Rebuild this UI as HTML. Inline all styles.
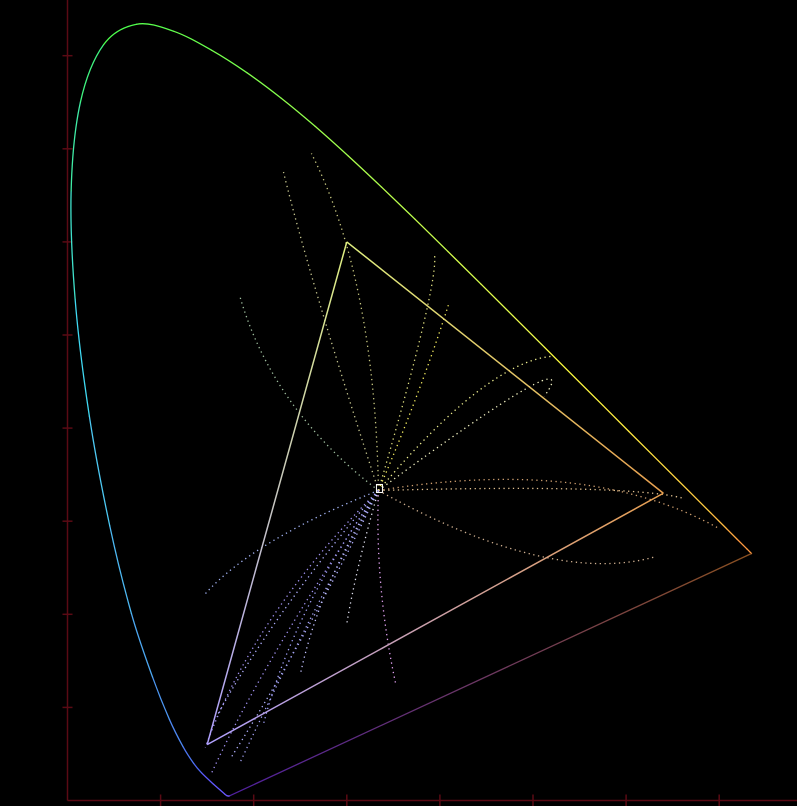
<!DOCTYPE html>
<html><head><meta charset="utf-8"><style>
html,body{margin:0;padding:0;background:#000;width:797px;height:806px;overflow:hidden}
svg{display:block}
</style></head><body>
<svg id="chart" width="797" height="806" viewBox="0 0 797 806" xmlns="http://www.w3.org/2000/svg">
<g id="axes"></g>
<g id="curves"></g>
<g id="locus"></g>
<g id="gamut"></g>
</svg>
<script>
const wavelengths=[380,400,410,420,430,440,450,460,465,470,475,480,485,490,495,500,505,510,515,520,525,530,535,540,545,550,555,560,565,570,575,580,585,590,595,600,605,610,620,630,640,650,660,680,700];
const locusX=[.1741,.1733,.1726,.1714,.1689,.1644,.1566,.1440,.1355,.1241,.1096,.0913,.0687,.0454,.0235,.0082,.0039,.0139,.0389,.0743,.1142,.1547,.1929,.2296,.2658,.3016,.3373,.3731,.4087,.4441,.4788,.5125,.5448,.5752,.6029,.6270,.6482,.6658,.6915,.7079,.7190,.7260,.7300,.7334,.7347];
const locusY=[.0050,.0048,.0048,.0051,.0069,.0109,.0177,.0297,.0399,.0578,.0868,.1327,.2007,.2950,.4127,.5384,.6548,.7502,.8120,.8338,.8262,.8059,.7816,.7543,.7243,.6923,.6589,.6245,.5896,.5547,.5202,.4866,.4544,.4242,.3965,.3725,.3514,.3340,.3083,.2920,.2809,.2740,.2700,.2666,.2653];
const gamutX=[0.64,0.30,0.15];
const gamutY=[0.33,0.60,0.06];
const gamutColors=['#e8a050','#e0f080','#b0a0ff'];
const whiteX=0.334, whiteY=0.333;
const curveEndX=[0.232,0.262,0.185,0.394,0.410,0.519,0.512,0.148,0.353,0.632,0.700,0.660,0.148,0.155,0.175,0.185,0.160,0.250,0.300,0.210];
const curveEndY=[0.675,0.695,0.542,0.587,0.535,0.477,0.434,0.222,0.123,0.262,0.292,0.325,0.057,0.030,0.045,0.040,0.090,0.135,0.190,0.080];
const curveCtlX=[0.260,0.330,0.220,0.400,0.380,0.450,0.560,0.200,0.330,0.520,0.560,0.600,0.200,0.210,0.260,0.250,0.220,0.270,0.310,0.240];
const curveCtlY=[0.560,0.560,0.420,0.560,0.440,0.470,0.500,0.280,0.230,0.230,0.370,0.340,0.200,0.150,0.180,0.180,0.200,0.230,0.250,0.200];
const curveColors=['#c8c890','#c8c880','#a0c0a0','#e0e080','#f8f060','#f0f090','#f0f0c0','#a0b0f0','#e0a0f0','#d0b090','#d0a070','#e0c090','#a090f0','#a090f0','#b0b0ff','#a0a0f0','#b0b0ff','#c0c0ff','#e0e0f0','#a0a0f8'];
const tickVals=[0.1,0.2,0.3,0.4,0.5,0.6,0.7,0.8];

const NS='http://www.w3.org/2000/svg';
const X0=67.5,Y0=800.5,S=931;
function sx(v){return X0+v*S}
function sy(v){return Y0-v*S}
function mk(t,a,p){const e=document.createElementNS(NS,t);for(const k in a)e.setAttribute(k,a[k]);p.appendChild(e);return e}
function wlColor(w){
  let r,g,b;
  if(w<460){r=0.5-(w-380)/80*0.15;g=0.35;b=1}
  else if(w<495){r=0.3;g=0.4+(w-460)/35*0.45;b=0.95}
  else if(w<515){r=0.25;g=0.85+(w-495)/20*0.15;b=0.95-(w-495)/20*0.6}
  else if(w<580){r=0.3+(w-515)/65*0.7;g=1;b=0.3}
  else if(w<640){r=1;g=1-(w-580)/60*0.4;b=0.25}
  else{r=1;g=0.6;b=0.25}
  return 'rgb('+Math.round(r*255)+','+Math.round(g*255)+','+Math.round(b*255)+')';
}
const axes=document.getElementById('axes');
const ax=mk('line',{x1:X0,y1:0,x2:X0,y2:Y0,stroke:'#5a0a14','stroke-width':1.5},axes);

const bx=mk('line',{x1:X0,y1:Y0,x2:797,y2:Y0,stroke:'#5a0a14','stroke-width':1.5},axes);

tickVals.forEach(v=>{
  if(v<0.75){const t=mk('line',{x1:sx(v),y1:Y0-6,x2:sx(v),y2:Y0+6,stroke:'#5a0a14','stroke-width':1.5},axes);
  }
  const u=mk('line',{x1:X0-5,y1:sy(v),x2:X0+5,y2:sy(v),stroke:'#5a0a14','stroke-width':1.5},axes);
  
});
const cg=document.getElementById('curves');
for(let i=0;i<curveEndX.length;i++){
  const p=mk('path',{d:'M'+sx(whiteX)+','+sy(whiteY)+' Q'+sx(curveCtlX[i])+','+sy(curveCtlY[i])+' '+sx(curveEndX[i])+','+sy(curveEndY[i]),fill:'none',stroke:curveColors[i],'stroke-width':1.3,'stroke-dasharray':'1.3 3.5'},cg);
  
}
const wp=mk('rect',{x:sx(whiteX)-2,y:sy(whiteY)-6,width:6,height:8,fill:'none',stroke:'#fff','stroke-width':1},cg);

const lg=document.getElementById('locus');
const n=wavelengths.length;
const P=i=>[sx(locusX[Math.max(0,Math.min(n-1,i))]),sy(locusY[Math.max(0,Math.min(n-1,i))])];
for(let i=0;i<n-1;i++){
  const p0=P(i-1),p1=P(i),p2=P(i+1),p3=P(i+2);
  const c1=[p1[0]+(p2[0]-p0[0])/6,p1[1]+(p2[1]-p0[1])/6];
  const c2=[p2[0]-(p3[0]-p1[0])/6,p2[1]-(p3[1]-p1[1])/6];
  const s=mk('path',{d:'M'+p1+' C'+c1+' '+c2+' '+p2,fill:'none',stroke:wlColor(wavelengths[i]),'stroke-width':1.3,'stroke-linecap':'round'},lg);
  
}
const defs=mk('defs',{},document.getElementById('chart'));
const grad=mk('linearGradient',{id:'pg',gradientUnits:'userSpaceOnUse',x1:sx(locusX[0]),y1:sy(locusY[0]),x2:sx(locusX[n-1]),y2:sy(locusY[n-1])},defs);
mk('stop',{offset:'0','stop-color':'#5020a0'},grad);mk('stop',{offset:'1','stop-color':'#8a5020'},grad);
const pl=mk('line',{x1:sx(locusX[0]),y1:sy(locusY[0]),x2:sx(locusX[n-1]),y2:sy(locusY[n-1]),stroke:'url(#pg)','stroke-width':1.3},lg);

const gg=document.getElementById('gamut');
for(let i=0;i<3;i++){
  const j=(i+1)%3;
  const gd=mk('linearGradient',{id:'gg'+i,gradientUnits:'userSpaceOnUse',x1:sx(gamutX[i]),y1:sy(gamutY[i]),x2:sx(gamutX[j]),y2:sy(gamutY[j])},defs);
  mk('stop',{offset:'0','stop-color':gamutColors[i]},gd);mk('stop',{offset:'1','stop-color':gamutColors[j]},gd);
  const e=mk('line',{x1:sx(gamutX[i]),y1:sy(gamutY[i]),x2:sx(gamutX[j]),y2:sy(gamutY[j]),stroke:'url(#gg'+i+')','stroke-width':1.5},gg);
  
}
</script>
</body></html>
